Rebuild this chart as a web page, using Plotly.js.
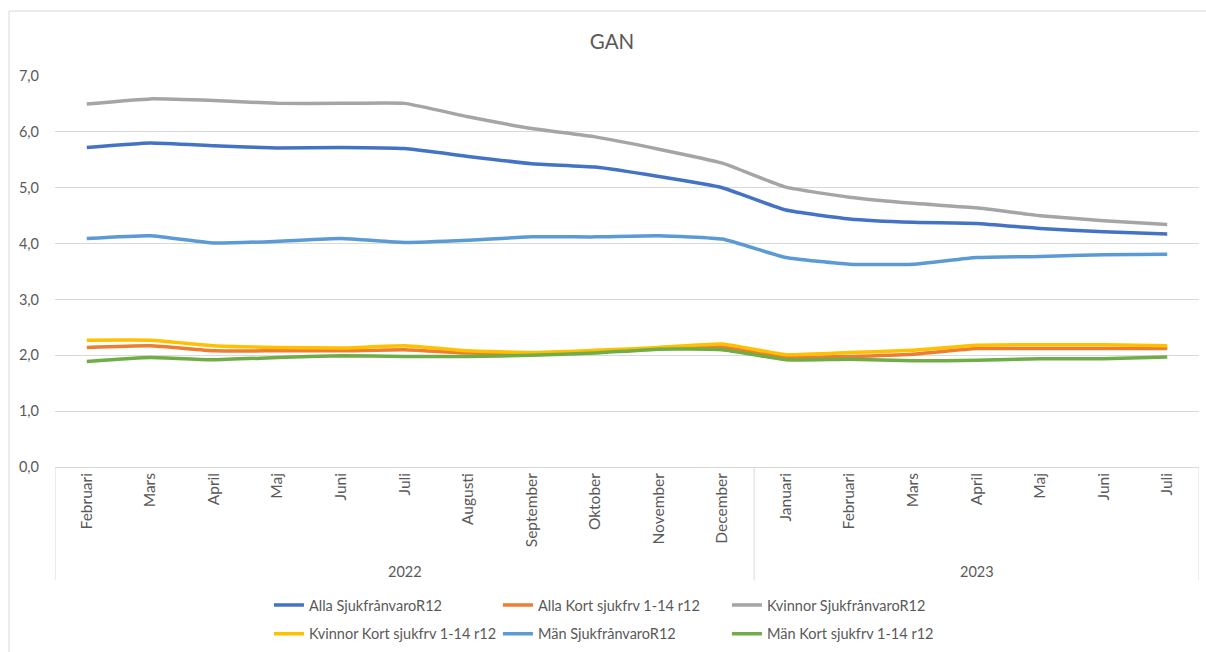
<!DOCTYPE html>
<html>
<head>
<meta charset="utf-8">
<script src="https://cdn.plot.ly/plotly-3.0.1.min.js"></script>
<style>html,body{margin:0;padding:0;background:#fff;}#chart{width:1206px;height:652px;}</style>
</head>
<body>
<div id="chart"></div>
<script>
const months = ['Februari','Mars','April','Maj','Juni','Juli','Augusti','September','Oktober','November','December','Januari','Februari','Mars','April','Maj','Juni','Juli'];
const years = ['2022','2022','2022','2022','2022','2022','2022','2022','2022','2022','2022','2023','2023','2023','2023','2023','2023','2023'];

const allaSjuk    = [5.72,5.80,5.75,5.71,5.72,5.70,5.56,5.43,5.37,5.20,5.00,4.60,4.44,4.38,4.36,4.27,4.21,4.17];
const allaKort    = [2.14,2.17,2.08,2.08,2.08,2.10,2.04,2.02,2.06,2.12,2.15,1.96,1.98,2.02,2.12,2.12,2.12,2.12];
const kvinnorSjuk = [6.50,6.59,6.56,6.51,6.51,6.51,6.27,6.06,5.91,5.69,5.44,5.01,4.83,4.72,4.64,4.50,4.41,4.34];
const kvinnorKort = [2.27,2.27,2.17,2.14,2.13,2.17,2.08,2.05,2.09,2.14,2.20,2.01,2.05,2.09,2.18,2.19,2.19,2.17];
const manSjuk     = [4.09,4.14,4.01,4.04,4.09,4.02,4.06,4.12,4.12,4.14,4.08,3.75,3.63,3.63,3.75,3.77,3.80,3.81];
const manKort     = [1.89,1.96,1.92,1.96,1.99,1.98,1.98,2.00,2.04,2.11,2.10,1.92,1.93,1.90,1.91,1.94,1.94,1.97];

const seriesNames = ['Alla SjukfrånvaroR12','Alla Kort sjukfrv 1-14 r12','Kvinnor SjukfrånvaroR12','Kvinnor Kort sjukfrv 1-14 r12','Män SjukfrånvaroR12','Män Kort sjukfrv 1-14 r12'];
const seriesData = [allaSjuk, allaKort, kvinnorSjuk, kvinnorKort, manSjuk, manKort];
const colors = ['#4472C4','#ED7D31','#A5A5A5','#FFC000','#5B9BD5','#70AD47'];

const FONT = 'Lato, "Open Sans", sans-serif';
const idx = months.map((_, i) => i);

// year groups derived from the years array
const groups = [];
years.forEach((y, i) => {
  const g = groups[groups.length - 1];
  if (g && g.year === y) { g.end = i; } else { groups.push({year: y, start: i, end: i}); }
});

const traces = seriesData.map((vals, i) => ({
  type: 'scatter',
  mode: 'lines',
  x: idx,
  y: vals,
  name: seriesNames[i],
  line: {color: colors[i], width: 3.5, shape: 'spline', smoothing: 0.4},
  legend: i < 3 ? 'legend' : 'legend2',
  hoverinfo: 'y'
}));

const legendBase = {
  orientation: 'h',
  xref: 'container', yref: 'container',
  x: 0.223, xanchor: 'left',
  yanchor: 'middle',
  entrywidth: 184, entrywidthmode: 'pixels',
  font: {family: FONT, size: 14.5, color: '#595959'},
  bgcolor: 'rgba(0,0,0,0)',
  borderwidth: 0,
  itemwidth: 30,
  tracegroupgap: 0
};

const labelDepth = -0.289;   // bottom of the category label box (paper units)
const yearLabelY = -0.2685;

const shapes = [{
  type: 'rect', xref: 'paper', yref: 'paper',
  x0: -0.0402, x1: 1.02, y0: -0.6, y1: 1.1662,
  line: {color: '#D9D9D9', width: 1},
  fillcolor: 'rgba(0,0,0,0)',
  layer: 'below'
}];
const dividerPos = [groups[0].start - 0.5].concat(groups.map(g => g.end + 0.5));
dividerPos.forEach(p => shapes.push({
  type: 'line', xref: 'x', yref: 'paper',
  x0: p, x1: p, y0: 0, y1: labelDepth,
  line: {color: '#D9D9D9', width: 1}
}));

const annotations = groups.map(g => ({
  xref: 'x', yref: 'paper',
  x: (g.start + g.end) / 2, y: yearLabelY,
  text: g.year, showarrow: false,
  xanchor: 'center', yanchor: 'middle',
  font: {family: FONT, size: 14.5, color: '#595959'}
}));

const layout = {
  width: 1206, height: 652,
  margin: {l: 55, r: 7, t: 76, b: 185},
  paper_bgcolor: '#ffffff',
  plot_bgcolor: '#ffffff',
  separators: ', ',
  font: {family: FONT, color: '#595959'},
  title: {
    text: 'GAN',
    font: {family: FONT, size: 20.5, color: '#595959'},
    xref: 'container', yref: 'container',
    x: 0.5075, xanchor: 'center',
    y: 0.9356, yanchor: 'middle'
  },
  xaxis: {
    type: 'linear',
    range: [-0.5, months.length - 0.5],
    tickmode: 'array',
    tickvals: idx,
    ticktext: months,
    tickangle: -90,
    tickfont: {family: FONT, size: 15.5, color: '#595959'},
    ticklabelstandoff: 2,
    showgrid: false,
    showline: false,
    ticks: '',
    zeroline: false,
    fixedrange: true
  },
  yaxis: {
    range: [0, 7],
    dtick: 1,
    tick0: 0,
    tickformat: '.1f',
    showgrid: true,
    gridcolor: '#D9D9D9',
    gridwidth: 1,
    zeroline: true,
    zerolinecolor: '#D9D9D9',
    zerolinewidth: 1,
    showline: false,
    ticks: '',
    ticklabelstandoff: 15,
    tickfont: {family: FONT, size: 14.5, color: '#595959'},
    fixedrange: true
  },
  showlegend: true,
  legend: Object.assign({}, legendBase, {y: 0.072}),
  legend2: Object.assign({}, legendBase, {y: 0.028}),
  shapes: shapes,
  annotations: annotations
};

Plotly.newPlot('chart', traces, layout, {displayModeBar: false, staticPlot: true});
</script>
</body>
</html>
